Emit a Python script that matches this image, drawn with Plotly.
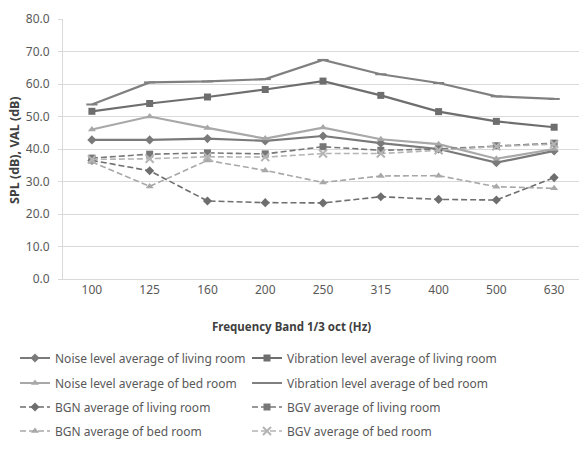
import plotly.graph_objects as go

freqs = ["100", "125", "160", "200", "250", "315", "400", "500", "630"]

noise_living = [42.8, 42.8, 43.2, 42.5, 44.0, 41.8, 40.0, 35.8, 39.4]
vib_living = [51.6, 54.0, 56.0, 58.3, 60.9, 56.5, 51.5, 48.5, 46.7]
noise_bed = [46.0, 50.0, 46.5, 43.2, 46.6, 43.0, 41.5, 37.0, 40.0]
vib_bed = [53.7, 60.5, 60.8, 61.5, 67.4, 63.0, 60.3, 56.2, 55.4]
bgn_living = [36.5, 33.3, 24.0, 23.5, 23.4, 25.3, 24.5, 24.3, 31.2]
bgv_living = [37.2, 38.4, 38.8, 38.5, 40.7, 39.6, 40.0, 41.0, 41.8]
bgn_bed = [36.0, 28.5, 36.5, 33.4, 29.7, 31.7, 31.8, 28.4, 27.9]
bgv_bed = [36.8, 37.0, 37.6, 37.5, 38.6, 38.6, 39.6, 40.8, 41.5]

names = [
    "Noise level average of living room",
    "Vibration level average of living room",
    "Noise level average of bed room",
    "Vibration level average of bed room",
    "BGN average of living room",
    "BGV average of living room",
    "BGN average of bed room",
    "BGV average of bed room",
]
series = [noise_living, vib_living, noise_bed, vib_bed,
          bgn_living, bgv_living, bgn_bed, bgv_bed]
colors = ["#7a7a7a", "#6e6e6e", "#a8a8a8", "#808080",
          "#6e6e6e", "#777777", "#a8a8a8", "#b4b4b4"]
dashes = ["solid", "solid", "solid", "solid", "dash", "dash", "dash", "dash"]
symbols = ["diamond", "square", "triangle-up", "line-ew-open",
           "diamond", "square", "triangle-up", "x-thin-open"]
widths = [2.2, 2.2, 2.2, 2.2, 1.6, 1.6, 1.6, 1.6]

legend_ids = ["legend"] + [f"legend{k}" for k in range(2, 9)]

fig = go.Figure()
for i, (nm, ys, c, d, s, w) in enumerate(zip(names, series, colors, dashes, symbols, widths)):
    mk = dict(symbol=s, size=7, color=c)
    if s.endswith("-open"):
        mk["line"] = dict(color=c, width=2)
        mk["size"] = 8
    fig.add_trace(go.Scatter(
        x=freqs, y=ys, name=nm, mode="lines+markers",
        line=dict(color=c, width=w, dash=d if d == "solid" else "6px,3px"),
        marker=mk, legend=legend_ids[i],
    ))

font_family = "Noto Sans, Open Sans, DejaVu Sans, sans-serif"

row_centers = [358, 383, 407, 431]
col_left_px = [15, 247]
legend_defs = {}
for i, lid in enumerate(legend_ids):
    yc = row_centers[i // 2]
    xl = col_left_px[i % 2]
    legend_defs[lid] = dict(
        orientation="v", x=(xl - 63) / 516, xanchor="left",
        y=(279 - yc) / 260, yanchor="middle", itemwidth=30,
        font=dict(size=12, color="#595959"), bgcolor="rgba(0,0,0,0)",
    )

fig.update_layout(
    width=579, height=451,
    margin=dict(l=63, r=0, t=19, b=172),
    paper_bgcolor="white", plot_bgcolor="white",
    font=dict(family=font_family, size=11, color="#595959"),
    showlegend=True,
    xaxis=dict(
        type="category", range=[-0.5, 8.43], showgrid=False,
        showline=True, linecolor="#d9d9d9", linewidth=1,
        ticks="", tickfont=dict(size=12, color="#595959"),
        fixedrange=True,
    ),
    yaxis=dict(
        range=[0, 80], dtick=10, tickformat=".1f",
        showgrid=True, gridcolor="#d9d9d9", gridwidth=1,
        showline=True, linecolor="#d9d9d9", linewidth=1,
        ticks="outside", ticklen=4, tickcolor="#d9d9d9",
        ticklabelstandoff=6,
        tickfont=dict(size=12, color="#595959"), zeroline=False,
    ),
    annotations=[
        dict(text="<b>Frequency Band 1/3 oct (Hz)</b>", xref="paper", yref="paper",
             x=(291 - 63) / 516, y=(279 - 326) / 260, xanchor="center", yanchor="middle",
             showarrow=False, font=dict(size=11.5, color="#404040")),
        dict(text="<b>SPL (dB), VAL (dB)</b>", xref="paper", yref="paper",
             x=(14 - 63) / 516, y=(279 - 150) / 260, xanchor="center", yanchor="middle",
             textangle=-90, showarrow=False, font=dict(size=12.5, color="#404040")),
    ],
    **legend_defs,
)

fig.write_html("out.html")
